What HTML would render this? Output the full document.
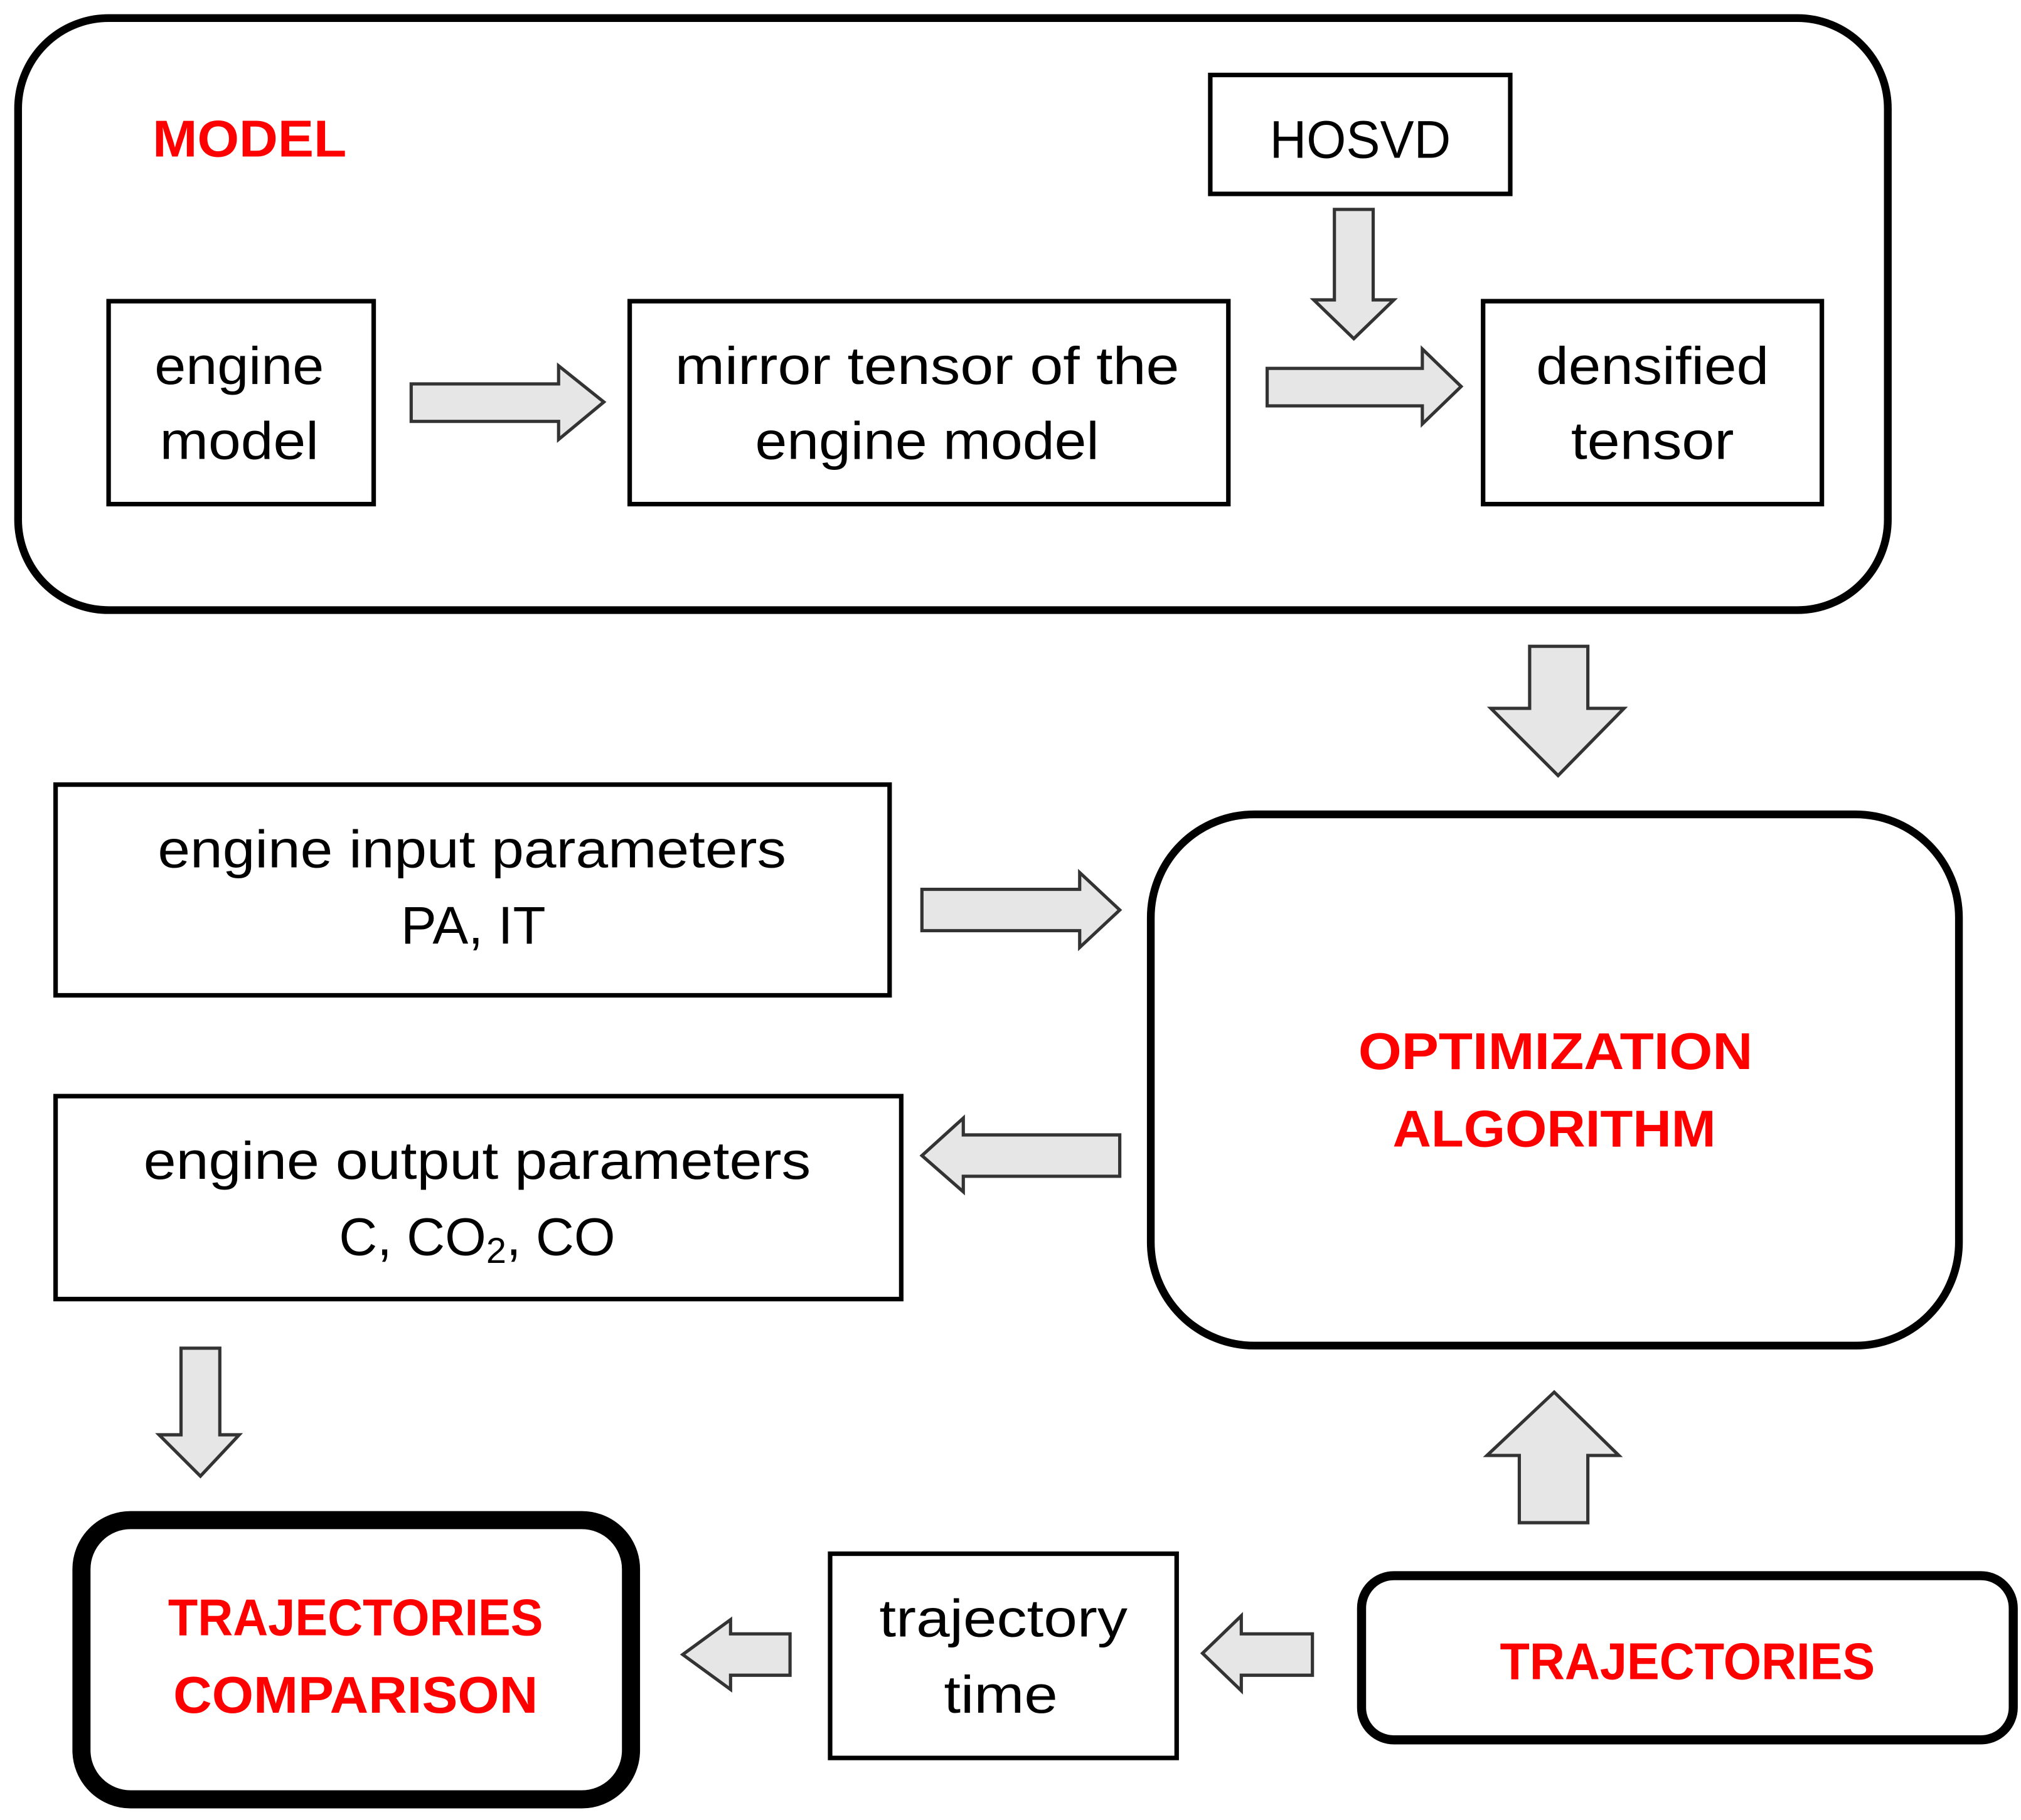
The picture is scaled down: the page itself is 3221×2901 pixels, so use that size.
<!DOCTYPE html>
<html><head><meta charset="utf-8"><style>html,body{margin:0;padding:0;background:#fff}svg{display:block}</style></head>
<body>
<svg width="3221" height="2901" viewBox="0 0 1563 1408" preserveAspectRatio="none" xmlns="http://www.w3.org/2000/svg" font-family="Liberation Sans, sans-serif">
<g fill="none" stroke="#000">
<rect x="14" y="14" width="1446" height="458" rx="70" stroke-width="6"/>
<rect x="936" y="58" width="232" height="92" stroke-width="3.5"/>
<rect x="84" y="233" width="205" height="157" stroke-width="3.5"/>
<rect x="487" y="233" width="463" height="157" stroke-width="3.5"/>
<rect x="1147" y="233" width="262" height="157" stroke-width="3.5"/>
<rect x="43" y="607" width="645" height="163" stroke-width="3.5"/>
<rect x="43" y="848" width="654" height="157" stroke-width="3.5"/>
<rect x="890" y="630" width="625" height="411" rx="80" stroke-width="6"/>
<rect x="63" y="1176" width="425" height="216" rx="38" stroke-width="14"/>
<rect x="642" y="1202" width="268" height="158" stroke-width="3.5"/>
<rect x="1053" y="1219" width="504" height="127" rx="25" stroke-width="7"/>
</g>
<g fill="#e6e6e6" stroke="#333" stroke-width="2.5" stroke-linejoin="miter">
<polygon points="318,297 432,297 432,283 467,311 432,340 432,326 318,326"/>
<polygon points="980,285 1100,285 1100,270 1130,299 1100,328 1100,314 980,314"/>
<polygon points="1032,162 1062,162 1062,232 1078,232 1047,262 1016,232 1032,232"/>
<polygon points="1183,500 1228,500 1228,548 1256,548 1205,600 1153,548 1183,548"/>
<polygon points="713,688 835,688 835,675 866,704 835,733 835,720 713,720"/>
<polygon points="866,878 745,878 745,865 713,894 745,922 745,910 866,910"/>
<polygon points="140,1043 170,1043 170,1110 185,1110 155,1142 123,1110 140,1110"/>
<polygon points="611,1264 565,1264 565,1253 528,1280 565,1307 565,1296 611,1296"/>
<polygon points="1015,1264 960,1264 960,1250 930,1279 960,1308 960,1296 1015,1296"/>
<polygon points="1175,1178 1228,1178 1228,1126 1252,1126 1202,1077 1150,1126 1175,1126"/>
</g>
<g font-size="41" text-anchor="middle" fill="#000">
<text x="1052" y="122" textLength="140" lengthAdjust="spacingAndGlyphs">HOSVD</text>
<text x="185" y="297" textLength="131" lengthAdjust="spacingAndGlyphs">engine</text>
<text x="185" y="355" textLength="123" lengthAdjust="spacingAndGlyphs">model</text>
<text x="717" y="297" textLength="390" lengthAdjust="spacingAndGlyphs">mirror tensor of the</text>
<text x="717" y="355" textLength="266" lengthAdjust="spacingAndGlyphs">engine model</text>
<text x="1278" y="297" textLength="180" lengthAdjust="spacingAndGlyphs">densified</text>
<text x="1278" y="355" textLength="126" lengthAdjust="spacingAndGlyphs">tensor</text>
<text x="365" y="671" textLength="486" lengthAdjust="spacingAndGlyphs">engine input parameters</text>
<text x="366" y="730" textLength="112" lengthAdjust="spacingAndGlyphs">PA, IT</text>
<text x="369" y="912" textLength="516" lengthAdjust="spacingAndGlyphs">engine output parameters</text>
<text x="369" y="971">C, CO<tspan font-size="28" dy="6">2</tspan><tspan dy="-6">, CO</tspan></text>
<text x="776" y="1266" textLength="192" lengthAdjust="spacingAndGlyphs">trajectory</text>
<text x="774" y="1325" textLength="88" lengthAdjust="spacingAndGlyphs">time</text>
</g>
<g font-size="40" font-weight="bold" fill="#ff0000" text-anchor="middle">
<text x="193" y="121" textLength="150" lengthAdjust="spacingAndGlyphs">MODEL</text>
<text x="1203" y="827" textLength="305" lengthAdjust="spacingAndGlyphs">OPTIMIZATION</text>
<text x="1202" y="887" textLength="250" lengthAdjust="spacingAndGlyphs">ALGORITHM</text>
<text x="275" y="1265" textLength="290" lengthAdjust="spacingAndGlyphs">TRAJECTORIES</text>
<text x="275" y="1325" textLength="282" lengthAdjust="spacingAndGlyphs">COMPARISON</text>
<text x="1305" y="1299" textLength="290" lengthAdjust="spacingAndGlyphs">TRAJECTORIES</text>
</g>
</svg>
</body></html>
